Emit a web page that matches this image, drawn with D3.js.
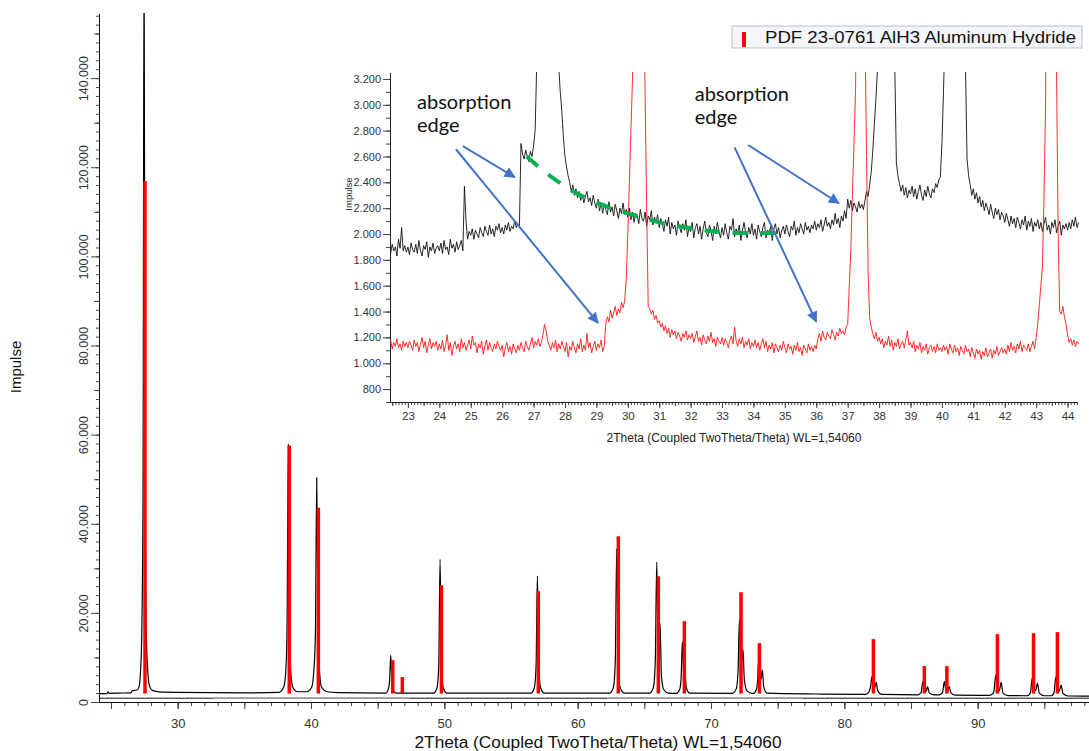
<!DOCTYPE html>
<html>
<head>
<meta charset="utf-8">
<script src="https://cdn.jsdelivr.net/npm/d3@7"></script>
<style>
  body { margin: 0; background: #fff; }
  svg text { font-family: "Liberation Sans", Arial, sans-serif; }
</style>
</head>
<body>
<svg id="chart" width="1089" height="751"></svg>
<script>
// ---- main scan (black), [2theta, counts]
var scanPoints = [
  [24.1,1900],[24.7,1880],[24.78,2300],[24.86,1950],[25.5,2000],[26.5,2050],[26.6,2550],[26.95,2700],
  [27.1,3400],[27.2,6000],[27.3,14000],[27.4,45000],[27.48,170000],[27.56,45000],[27.66,14000],[27.78,6000],[27.9,3500],[28.1,2600],[28.6,2250],
  [30,2150],[35,2050],[37.6,2150],
  [37.95,3300],[38.1,6500],[38.2,16000],[38.3,57800],[38.4,16000],[38.5,6000],[38.65,3200],[39.0,2300],
  [39.7,2300],[40.05,3300],[40.2,6500],[40.33,15000],[40.43,50300],[40.53,15000],[40.66,6000],[40.8,3300],[41.2,2300],[42,2100],
  [45.6,2000],[45.8,2900],[45.9,5000],[45.98,10500],[46.06,5000],[46.16,2700],[46.4,2000],
  [49.2,2000],[49.45,3200],[49.58,8000],[49.68,32000],[49.78,8000],[49.92,3200],[50.2,2000],
  [56.5,2000],[56.75,3200],[56.88,8000],[56.98,28300],[57.08,8000],[57.22,3200],[57.5,2000],
  [62.4,2000],[62.68,3300],[62.82,9000],[62.93,34400],[63.04,9000],[63.18,3300],[63.5,2000],
  [65.4,2000],[65.68,3300],[65.82,9000],[65.93,31400],[66.02,16000],[66.1,15000],[66.18,17600],[66.28,6000],[66.45,2800],[66.8,2000],
  [67.4,1950],[67.65,2800],[67.76,5500],[67.85,13500],[67.95,7000],[68.05,6500],[68.15,3200],[68.4,2000],
  [71.6,1950],[71.9,3000],[72.03,7000],[72.13,18500],[72.23,9000],[72.3,8500],[72.4,11800],[72.5,5000],[72.7,2500],[73.1,1950],
  [73.2,1950],[73.4,2800],[73.5,5000],[73.57,9400],[73.66,5000],[73.76,5200],[73.85,7200],[73.95,3500],[74.2,2000],
  [78,1800],
  [81.6,1700],[81.85,2300],[81.97,3500],[82.06,5660],[82.16,3300],[82.25,3000],[82.39,4400],[82.5,2600],[82.8,1700],
  [85.5,1600],[85.75,2100],[85.89,4550],[86.0,2600],[86.12,2300],[86.24,3430],[86.36,2100],[86.7,1600],
  [87.1,1600],[87.36,2100],[87.5,4550],[87.62,2600],[87.74,2300],[87.87,3430],[87.99,2100],[88.3,1550],
  [90.9,1500],[91.2,2100],[91.36,6050],[91.48,3000],[91.62,2500],[91.76,4400],[91.9,2000],[92.3,1450],
  [93.7,1400],[93.95,2000],[94.1,5500],[94.22,2900],[94.35,2600],[94.48,4200],[94.62,2000],[95.0,1400],
  [95.5,1400],[95.72,2000],[95.86,5660],[95.98,2800],[96.12,2400],[96.26,3800],[96.4,1900],[96.8,1350],[98.5,1300]
];

// ---- PDF 23-0761 AlH3 reference sticks (red)
var refPos = [27.55, 38.37, 40.55, 46.13, 46.85, 49.78, 57.05, 63.05, 66.05, 68.0, 72.25, 73.63, 82.18, 86.0, 87.69, 91.48, 94.19, 95.98];
var refInt = [116900, 57560, 43600, 9400, 5600, 26200, 24860, 37180, 28220, 18140, 24640, 13210, 14110, 8060, 8060, 15230, 15450, 15680];
var stickBase = 1900;

// second baseline under the scan, with its grey runs
var refBaseline = 850;
var greyRuns = [[32.65, 47.4], [62.2, 76.9]];

// ---- inset: two zoomed scans, one value every 0.05 deg from 22.40 (rows = one degree)
var insetStart = 22.4;
var insetBlack = [
  1880,1850,1920,1870,1900,1830,1960,1890,2050,1870,1910,1860,
  1900,1840,1930,1880,1860,1920,1850,1950,1870,1830,1910,1880,1940,1820,1900,1870,1930,1850,1890,1910,
  1870,1930,1850,1950,1880,1900,1840,1960,1890,1920,1860,1940,1880,1910,1950,1870,2370,2100,1960,2020,
  1990,2040,1960,2030,2000,1970,2050,2010,1980,2060,2020,1990,2070,2000,2040,1980,2060,2030,2080,2010,
  2050,2000,2070,2030,2090,2020,2060,2040,2100,2050,2080,2060,2700,2620,2580,2650,2600,2560,2640,2600,
  2680,2800,3300,5000,9000,15000,25000,35000,40000,40000,35000,25000,15000,9000,5500,4000,3300,3100,2950,2750,
  2600,2520,2450,2400,2330,2380,2300,2350,2280,2330,2260,2310,2240,2290,2330,2250,2280,2220,2300,2240,
  2200,2270,2180,2240,2160,2230,2190,2150,2250,2170,2210,2140,2230,2180,2120,2200,2160,2240,2150,2190,
  2130,2200,2110,2170,2090,2160,2140,2080,2190,2120,2100,2170,2060,2140,2110,2180,2070,2130,2090,2150,
  2050,2120,2080,2020,2110,2060,2130,2000,2090,2040,2070,1990,2100,2050,2010,2080,2030,2110,1980,2060,
  2020,2090,1970,2050,2080,2000,2060,1960,2040,2100,2010,1980,2070,2030,1950,2060,2000,2090,2020,1970,
  2050,1990,2080,2010,1960,2060,2030,2120,1980,2040,2000,2070,1950,2030,2090,2010,1970,2050,2000,2080,
  1990,2040,1960,2070,2020,1980,2050,2090,1970,2030,2010,2060,1950,2040,2080,2000,2050,1970,2030,2060,
  2000,2070,2020,1980,2060,2030,2100,1990,2050,2010,2080,2040,2000,2090,2030,2060,2010,2070,2040,2100,
  2030,2080,2050,2110,2020,2070,2130,2060,2090,2040,2110,2070,2160,2080,2120,2050,2140,2100,2180,2120,
  2270,2200,2260,2180,2240,2210,2170,2250,2200,2230,2190,2260,2330,2290,2380,2480,2650,2850,3050,3280,
  4000,6000,10000,16000,16000,10000,6000,4500,3900,3600,3300,2550,2450,2390,2330,2380,2300,2360,2280,2340,
  2310,2370,2290,2350,2270,2330,2380,2300,2260,2340,2290,2370,2310,2280,2350,2320,2390,2360,2420,2440,
  2700,3100,3600,6000,12000,20000,30000,30000,20000,12000,7000,5000,3900,3600,3500,3300,2580,2450,2380,2300,
  2350,2270,2320,2240,2290,2210,2260,2180,2240,2200,2150,2230,2170,2120,2200,2150,2190,2110,2170,2140,
  2090,2160,2110,2060,2140,2080,2120,2050,2130,2090,2040,2110,2070,2140,2030,2100,2060,2120,2020,2090,
  2060,2110,2040,2090,2020,2080,2130,2030,2070,2000,2090,2050,2110,2010,2060,2100,1990,2070,2040,2080,
  2030,2090,2040,2110,2060,2130,2050,2090
];
var insetRed = [
  1140,1180,1110,1160,1130,1190,1120,1150,1100,1170,1130,1160,
  1120,1170,1140,1100,1180,1130,1160,1090,1150,1200,1120,1170,1080,1140,1190,1110,1160,1130,1170,1100,
  1150,1110,1180,1090,1140,1220,1100,1160,1060,1130,1170,1110,1150,1090,1190,1120,1160,1100,1140,1180,
  1110,1210,1140,1160,1080,1150,1120,1170,1070,1130,1180,1100,1160,1120,1090,1150,1110,1170,1130,1100,
  1140,1050,1120,1160,1090,1130,1070,1150,1110,1080,1140,1100,1160,1120,1090,1170,1130,1100,1150,1200,
  1120,1170,1140,1190,1130,1160,1220,1300,1250,1170,1140,1100,1160,1120,1180,1090,1150,1110,1170,1130,
  1090,1160,1050,1130,1100,1170,1120,1080,1150,1110,1190,1090,1140,1100,1230,1120,1160,1080,1130,1170,
  1100,1150,1120,1180,1090,1130,1310,1360,1320,1410,1350,1390,1440,1370,1420,1390,1470,1430,1480,1650,
  2000,2400,2800,3200,4200,7000,12000,20000,20000,12000,4000,3100,2200,1440,1420,1380,1410,1340,1370,1310,
  1330,1280,1310,1250,1290,1230,1270,1200,1260,1220,1250,1190,1240,1210,1170,1230,1200,1250,1180,1220,
  1190,1230,1160,1210,1250,1170,1200,1140,1220,1180,1150,1210,1170,1240,1160,1190,1130,1200,1170,1150,
  1200,1140,1190,1160,1120,1180,1210,1150,1280,1170,1130,1190,1150,1200,1120,1170,1140,1190,1110,1160,
  1130,1180,1120,1160,1100,1150,1190,1120,1170,1090,1140,1110,1160,1080,1150,1120,1090,1140,1100,1170,
  1120,1080,1150,1110,1130,1070,1140,1100,1160,1090,1120,1060,1140,1110,1080,1150,1100,1130,1090,1140,
  1110,1190,1230,1170,1250,1200,1180,1240,1210,1190,1260,1220,1180,1240,1210,1270,1230,1250,1220,1280,
  1300,1600,1880,2300,2700,3100,4500,9000,15000,12000,6000,3600,2600,1700,1350,1280,1230,1190,1240,1170,
  1200,1150,1190,1120,1170,1140,1210,1130,1180,1100,1160,1130,1190,1110,1150,1170,1120,1180,1250,1140,
  1160,1120,1170,1090,1140,1110,1160,1080,1130,1100,1150,1070,1120,1140,1090,1130,1080,1150,1100,1120,
  1090,1140,1100,1130,1070,1150,1110,1080,1140,1090,1120,1060,1130,1100,1070,1140,1090,1110,1050,1120,
  1080,1040,1110,1070,1100,1030,1090,1060,1120,1050,1080,1110,1040,1100,1070,1130,1060,1090,1120,1080,
  1110,1070,1140,1090,1160,1100,1130,1080,1150,1110,1170,1090,1140,1120,1100,1150,1090,1130,1170,1110,
  1200,1300,1450,1600,1750,2300,3000,5000,10000,15000,12000,7000,4500,3200,2000,1400,1380,1440,1360,1300,
  1220,1160,1190,1140,1180,1130,1170,1150
];
// green dashed background guide
var guidePoints = [[26.78,2600],[27.5,2455],[28.3,2325],[29.2,2225],[30.2,2145],[31.0,2090],[31.9,2050],[32.8,2020],[33.8,2008],[34.93,2008]];
// arrows (inset data coords)
var arrowFrom = [[24.75,2680],[24.53,2656],[33.83,2689],[33.40,2671]];
var arrowTo   = [[26.40,2440],[29.05,1313],[36.72,2238],[36.00,1321]];
var noteAt = [[23.29,2966],[32.13,3032]];

var legendLabel = "PDF 23-0761 AlH3 Aluminum Hydride";

var de = d3.formatLocale({ decimal: ",", thousands: ".", grouping: [3], currency: ["", " €"] });
var fmt = de.format(",d");

var svg = d3.select("#chart");

// ================= main chart =================
var X = d3.scaleLinear().domain([24.1, 98.5]).range([99, 1091]);
var Y = d3.scaleLinear().domain([0, 154500]).range([702, 13.5]);

svg.append("clipPath").attr("id", "mainClip")
  .append("rect").attr("x", 99).attr("y", 13).attr("width", 992).attr("height", 689);

var main = svg.append("g").attr("clip-path", "url(#mainClip)");

main.append("line")
  .attr("x1", X(24.1)).attr("x2", X(98.5))
  .attr("y1", Y(refBaseline)).attr("y2", Y(refBaseline))
  .attr("stroke", "#111").attr("stroke-width", 1);

main.selectAll(".greyRun")
  .data(greyRuns)
  .join("line")
  .attr("class", "greyRun")
  .attr("x1", d => X(d[0])).attr("x2", d => X(d[1]))
  .attr("y1", Y(refBaseline)).attr("y2", Y(refBaseline))
  .attr("stroke", "#999").attr("stroke-width", 1.6);

var scanLine = d3.line()
  .x(d => X(d[0]))
  .y(d => Y(d[1]))
  .curve(d3.curveMonotoneX);

main.append("path")
  .datum(scanPoints)
  .attr("d", scanLine)
  .attr("fill", "none")
  .attr("stroke", "#000")
  .attr("stroke-width", 1.2);

main.selectAll(".stick")
  .data(refPos)
  .join("rect")
  .attr("class", "stick")
  .attr("x", d => X(d) - 1.75)
  .attr("width", 3.5)
  .attr("y", (d, i) => Y(refInt[i]))
  .attr("height", (d, i) => Y(stickBase) - Y(refInt[i]))
  .attr("fill", "#ff0000");

// x axis
function plainTicks(g) {
  g.select(".domain").remove();
  g.selectAll(".tick line").attr("stroke", "#444");
}
svg.append("g").attr("transform", "translate(0,702)")
  .call(d3.axisBottom(X).tickValues(d3.range(25, 99)).tickSize(4).tickFormat(""))
  .call(plainTicks);
svg.append("g").attr("transform", "translate(0,702)")
  .call(d3.axisBottom(X).tickValues(d3.range(25, 99, 5)).tickSize(7).tickFormat(""))
  .call(plainTicks);
var xAxis = svg.append("g").attr("transform", "translate(0,702)")
  .call(d3.axisBottom(X).tickValues(d3.range(30, 91, 10)).tickSize(7).tickSizeOuter(0).tickPadding(10));
xAxis.select(".domain").attr("stroke", "#111");
xAxis.selectAll(".tick line").attr("stroke", "#444");
xAxis.selectAll(".tick text").attr("font-size", 13).attr("fill", "#333");

// y axis
svg.append("g").attr("transform", "translate(99,0)")
  .call(d3.axisLeft(Y).tickValues(d3.range(0, 154001, 2000)).tickSize(3).tickFormat(""))
  .call(plainTicks);
svg.append("g").attr("transform", "translate(99,0)")
  .call(d3.axisLeft(Y).tickValues(d3.range(10000, 154000, 20000)).tickSize(5).tickFormat(""))
  .call(plainTicks);
var yAxis = svg.append("g").attr("transform", "translate(99,0)")
  .call(d3.axisLeft(Y).tickValues(d3.range(0, 154000, 20000)).tickSize(8).tickSizeOuter(0).tickFormat(fmt));
yAxis.select(".domain").attr("stroke", "#111");
yAxis.selectAll(".tick line").attr("stroke", "#444");
yAxis.selectAll(".tick text")
  .attr("font-size", 12.5).attr("fill", "#333")
  .attr("transform", "rotate(-90)")
  .attr("x", 0).attr("y", -11).attr("dy", 0)
  .attr("text-anchor", "middle");

svg.append("text")
  .attr("transform", "translate(16,367) rotate(-90)")
  .attr("text-anchor", "middle").attr("dy", "0.35em")
  .attr("font-size", 15).attr("fill", "#111")
  .text("Impulse");

svg.append("text")
  .attr("x", 598).attr("y", 748)
  .attr("text-anchor", "middle")
  .attr("font-size", 16).attr("fill", "#111")
  .attr("textLength", 367).attr("lengthAdjust", "spacingAndGlyphs")
  .text("2Theta (Coupled TwoTheta/Theta) WL=1,54060");

// ================= inset =================
var IX = d3.scaleLinear().domain([22.43, 44.3]).range([390, 1077]);
var IY = d3.scaleLinear().domain([700, 3250]).range([402, 72.5]);

var inset = svg.append("g");
inset.append("rect").attr("x", 336).attr("y", 62).attr("width", 750).attr("height", 390).attr("fill", "#fff");

svg.append("clipPath").attr("id", "insetClip")
  .append("rect").attr("x", 390).attr("y", 72).attr("width", 690).attr("height", 330);

inset.append("g").attr("transform", "translate(0,402)")
  .call(d3.axisBottom(IX).tickValues(d3.range(225, 444).map(d => d / 10)).tickSize(3).tickFormat(""))
  .call(plainTicks);
inset.append("g").attr("transform", "translate(0,402)")
  .call(d3.axisBottom(IX).tickValues(d3.range(225, 444, 5).map(d => d / 10)).tickSize(4).tickFormat(""))
  .call(plainTicks);
var ixAxis = inset.append("g").attr("transform", "translate(0,402)")
  .call(d3.axisBottom(IX).tickValues(d3.range(23, 45)).tickSize(6).tickSizeOuter(0).tickPadding(4));
ixAxis.select(".domain").attr("stroke", "#222");
ixAxis.selectAll(".tick line").attr("stroke", "#444");
ixAxis.selectAll(".tick text").attr("font-size", 11.5).attr("fill", "#333");

inset.append("g").attr("transform", "translate(390,0)")
  .call(d3.axisLeft(IY).tickValues(d3.range(700, 3251, 100)).tickSize(4).tickFormat(""))
  .call(plainTicks);
var iyAxis = inset.append("g").attr("transform", "translate(390,0)")
  .call(d3.axisLeft(IY).tickValues(d3.range(800, 3201, 200)).tickSize(7).tickSizeOuter(0).tickPadding(2).tickFormat(fmt));
iyAxis.select(".domain").attr("stroke", "#222");
iyAxis.selectAll(".tick line").attr("stroke", "#444");
iyAxis.selectAll(".tick text").attr("font-size", 11).attr("fill", "#333");

inset.append("text")
  .attr("transform", "translate(349,194) rotate(-90)")
  .attr("text-anchor", "middle").attr("dy", "0.35em")
  .attr("font-size", 9.5).attr("fill", "#222")
  .text("Impulse");

inset.append("text")
  .attr("x", 734).attr("y", 442)
  .attr("text-anchor", "middle")
  .attr("font-size", 12).attr("fill", "#222")
  .text("2Theta (Coupled TwoTheta/Theta) WL=1,54060");

var insetLine = d3.line()
  .x((d, i) => IX((insetStart * 20 + i) / 20))
  .y(d => IY(d));

var traces = inset.append("g").attr("clip-path", "url(#insetClip)");
traces.append("path").datum(insetBlack).attr("d", insetLine)
  .attr("fill", "none").attr("stroke", "#111").attr("stroke-width", 0.9);
traces.append("path").datum(insetRed).attr("d", insetLine)
  .attr("fill", "none").attr("stroke", "#ff1a1a").attr("stroke-width", 0.9);

inset.append("path")
  .datum(guidePoints)
  .attr("d", d3.line().x(d => IX(d[0])).y(d => IY(d[1])).curve(d3.curveMonotoneX))
  .attr("fill", "none")
  .attr("stroke", "#00b050")
  .attr("stroke-width", 4)
  .attr("stroke-dasharray", "15,13");

// arrows
svg.append("defs").append("marker")
  .attr("id", "arrowHead")
  .attr("viewBox", "0 0 10 10")
  .attr("refX", 9).attr("refY", 5)
  .attr("markerUnits", "userSpaceOnUse")
  .attr("markerWidth", 14).attr("markerHeight", 11)
  .attr("orient", "auto")
  .append("path").attr("d", "M0,0 L10,5 L0,10 z").attr("fill", "#4472c4");

inset.selectAll(".arrow")
  .data(arrowFrom)
  .join("line")
  .attr("class", "arrow")
  .attr("x1", d => IX(d[0])).attr("y1", d => IY(d[1]))
  .attr("x2", (d, i) => IX(arrowTo[i][0])).attr("y2", (d, i) => IY(arrowTo[i][1]))
  .attr("stroke", "#4472c4").attr("stroke-width", 2)
  .attr("marker-end", "url(#arrowHead)");

var notes = inset.selectAll(".note")
  .data(noteAt)
  .join("text")
  .attr("class", "note")
  .attr("x", d => IX(d[0])).attr("y", d => IY(d[1]))
  .style("font-family", "Lato, 'Open Sans', sans-serif")
  .attr("font-size", 20).attr("fill", "#111");
notes.append("tspan").text("absorption");
notes.append("tspan").attr("x", d => IX(d[0])).attr("dy", 23).text("edge");

// ================= legend =================
var legend = svg.append("g").attr("transform", "translate(732,26)");
legend.append("rect").attr("width", 350).attr("height", 22)
  .attr("fill", "#f4f6fa").attr("stroke", "#b9c0cc").attr("stroke-width", 1);
legend.append("rect").attr("x", 10).attr("y", 6).attr("width", 4).attr("height", 15).attr("fill", "#ff0000");
legend.append("text").attr("x", 33).attr("y", 17)
  .attr("font-size", 16).attr("fill", "#111")
  .attr("textLength", 311).attr("lengthAdjust", "spacingAndGlyphs")
  .text(legendLabel);
</script>
</body>
</html>
